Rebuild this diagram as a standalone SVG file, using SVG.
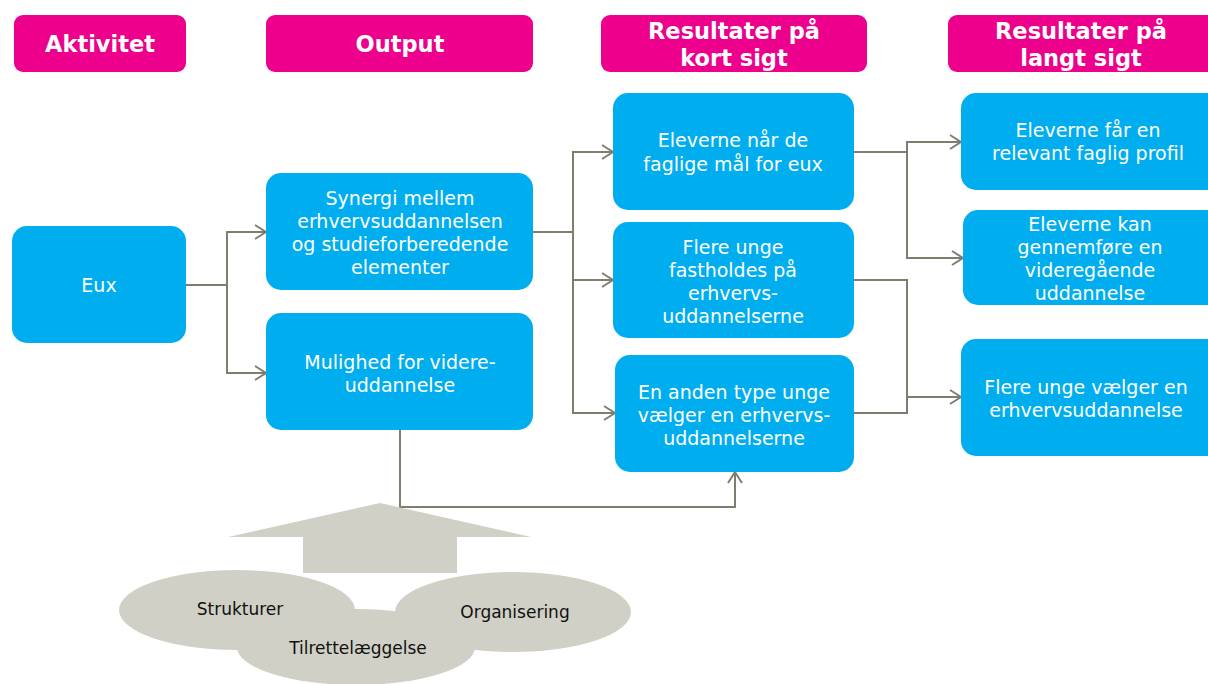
<svg xmlns="http://www.w3.org/2000/svg" width="1208" height="684" viewBox="0 0 1208 684">
<style>
.hdr{fill:#EC008C}
.box{fill:#00AEEF}
.ht{font-family:"DejaVu Sans",Verdana,sans-serif;font-weight:bold;font-size:22.5px;fill:#fff;text-anchor:middle}
.bt{font-family:"DejaVu Sans",Verdana,sans-serif;font-size:19px;fill:#fff;text-anchor:middle}
.gt{font-family:"DejaVu Sans",Verdana,sans-serif;font-size:17px;fill:#111;text-anchor:middle}
.con{fill:none;stroke:#807D6E;stroke-width:2}
.grey{fill:#D0D0C6}
</style>
<defs>
<marker id="arr" markerUnits="userSpaceOnUse" markerWidth="14" markerHeight="16" refX="12" refY="8" orient="auto">
<path d="M1,1 L12,8 L1,15" fill="none" stroke="#807D6E" stroke-width="2"/>
</marker>
</defs>
<rect width="1208" height="684" fill="#fff"/>

<g id="h-aktivitet"><rect class="hdr" x="14" y="15" width="172" height="57" rx="9"/><text class="ht" x="100" y="52">Aktivitet</text></g>
<g id="h-output"><rect class="hdr" x="266" y="15" width="267" height="57" rx="9"/><text class="ht" x="400" y="52">Output</text></g>
<g id="h-kort"><rect class="hdr" x="601" y="15" width="266" height="57" rx="9"/><text class="ht" x="734" y="39">Resultater på</text><text class="ht" x="734" y="66">kort sigt</text></g>
<g id="h-langt"><rect class="hdr" x="948" y="15" width="275" height="57" rx="9"/><text class="ht" x="1081" y="39">Resultater på</text><text class="ht" x="1081" y="66">langt sigt</text></g>

<g id="connectors">
<path class="con" d="M186,285 H227 V232 H266" marker-end="url(#arr)"/>
<path class="con" d="M227,285 V373 H266" marker-end="url(#arr)"/>
<path class="con" d="M533,232 H573 V152 H613" marker-end="url(#arr)"/>
<path class="con" d="M573,232 V280 H613" marker-end="url(#arr)"/>
<path class="con" d="M573,280 V413 H615" marker-end="url(#arr)"/>
<path class="con" d="M854,152 H907 V142 H961" marker-end="url(#arr)"/>
<path class="con" d="M907,152 V258 H963" marker-end="url(#arr)"/>
<path class="con" d="M854,280 H907 V413 H854"/>
<path class="con" d="M907,397 H961" marker-end="url(#arr)"/>
<path class="con" d="M400,430 V507 H735 V472" marker-end="url(#arr)"/>
</g>

<g id="n-eux"><rect class="box" x="12" y="226" width="174" height="117" rx="15"/><text class="bt" x="99" y="292">Eux</text></g>
<g id="n-synergi"><rect class="box" x="266" y="173" width="267" height="117" rx="15"/>
<text class="bt" x="400" y="205">Synergi mellem</text><text class="bt" x="400" y="228">erhvervsuddannelsen</text><text class="bt" x="400" y="251">og studieforberedende</text><text class="bt" x="400" y="274">elementer</text></g>
<g id="n-mulighed"><rect class="box" x="266" y="313" width="267" height="117" rx="15"/>
<text class="bt" x="400" y="369">Mulighed for videre-</text><text class="bt" x="400" y="392">uddannelse</text></g>
<g id="n-maal"><rect class="box" x="613" y="93" width="241" height="117" rx="15"/>
<text class="bt" x="733" y="147">Eleverne når de</text><text class="bt" x="733" y="171">faglige mål for eux</text></g>
<g id="n-fasthold"><rect class="box" x="613" y="222" width="241" height="116" rx="15"/>
<text class="bt" x="733" y="254">Flere unge</text><text class="bt" x="733" y="277">fastholdes på</text><text class="bt" x="733" y="300">erhvervs-</text><text class="bt" x="733" y="323">uddannelserne</text></g>
<g id="n-anden"><rect class="box" x="615" y="355" width="239" height="117" rx="15"/>
<text class="bt" x="734" y="399">En anden type unge</text><text class="bt" x="734" y="422">vælger en erhvervs-</text><text class="bt" x="734" y="445">uddannelserne</text></g>
<g id="n-profil"><rect class="box" x="961" y="93" width="262" height="97" rx="15"/>
<text class="bt" x="1088" y="137">Eleverne får en</text><text class="bt" x="1088" y="160">relevant faglig profil</text></g>
<g id="n-videre"><rect class="box" x="963" y="210" width="260" height="95" rx="15"/>
<text class="bt" x="1090" y="231">Eleverne kan</text><text class="bt" x="1090" y="254">gennemføre en</text><text class="bt" x="1090" y="277">videregående</text><text class="bt" x="1090" y="300">uddannelse</text></g>
<g id="n-vaelger"><rect class="box" x="961" y="339" width="262" height="117" rx="15"/>
<text class="bt" x="1086" y="394">Flere unge vælger en</text><text class="bt" x="1086" y="417">erhvervsuddannelse</text></g>

<g id="n-bigarrow"><polygon class="grey" points="380,503 531,537 457,537 457,573 303,573 303,537 228,537"/></g>
<g id="n-ellipses">
<ellipse class="grey" cx="237" cy="610" rx="118" ry="40"/>
<ellipse class="grey" cx="513" cy="612" rx="118" ry="40"/>
<ellipse class="grey" cx="356" cy="647" rx="119" ry="38"/>
<text class="gt" x="240" y="615">Strukturer</text>
<text class="gt" x="515" y="618">Organisering</text>
<text class="gt" x="358" y="654">Tilrettelæggelse</text>
</g>
</svg>
